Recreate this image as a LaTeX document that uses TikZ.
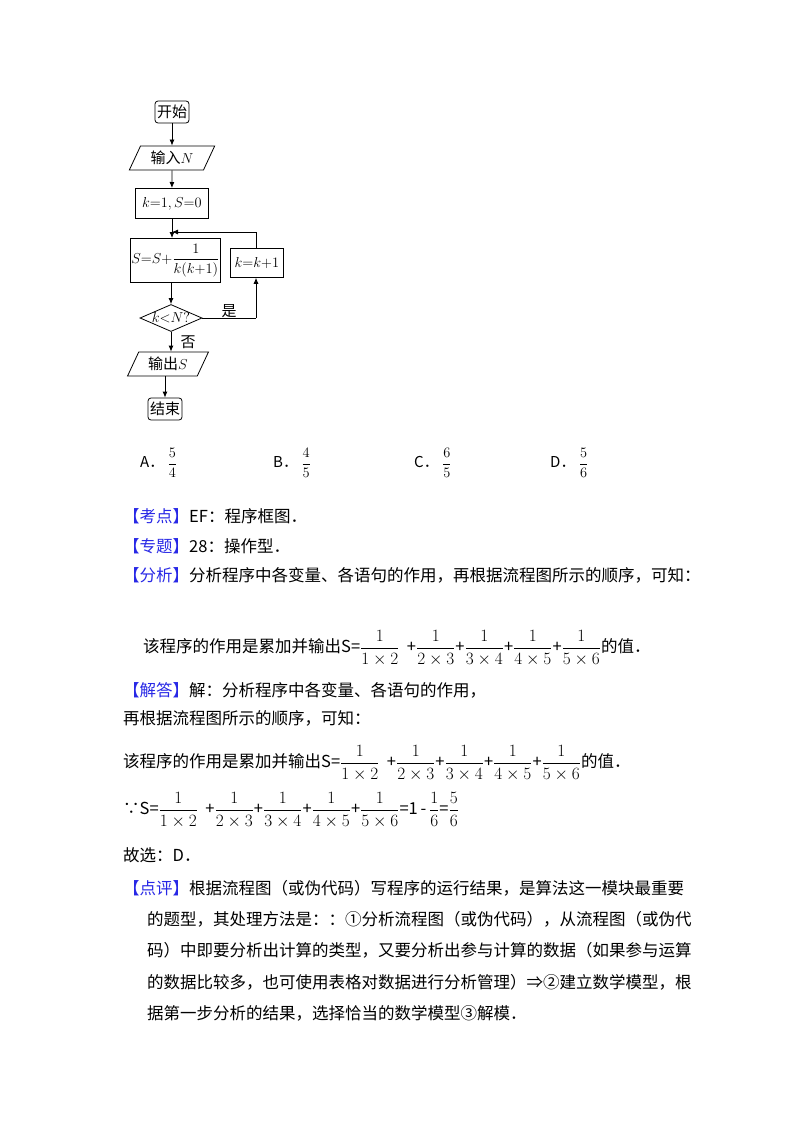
\documentclass[tikz,border=0pt]{standalone}
\usepackage{fontspec}
\usepackage{amsmath}
\setmainfont{Liberation Serif}
\newfontfamily\cjk{Noto Sans CJK SC}
\usetikzlibrary{shapes.geometric,arrows.meta}
\definecolor{kblue}{RGB}{40,40,230}
\newcommand{\lb}[1]{\textcolor{kblue}{【#1】}}
\newcommand{\fr}[2]{$\dfrac{#1}{#2}$}
\begin{document}
\begin{tikzpicture}[x=1pt,y=-1pt,
  fbox/.style={draw,thick,inner sep=2pt,font=\fontsize{15}{17}\selectfont\cjk},
  term/.style={fbox,rounded corners=3pt,minimum width=34pt,minimum height=22pt},
  io/.style={fbox,trapezium,trapezium left angle=65,trapezium right angle=115,minimum height=24pt},
  proc/.style={fbox,anchor=north west},
  dec/.style={fbox,diamond,aspect=2.3,inner sep=0pt},
  arr/.style={thick,-{Latex[length=6pt,width=5pt]}},
  ln/.style={thick},
  txt/.style={anchor=west,inner sep=0pt,font=\fontsize{16.5}{20}\selectfont\cjk},
  opt/.style={anchor=west,inner sep=0pt,font=\fontsize{15}{18}\selectfont\cjk}]
\useasboundingbox[fill=white] (0,0) rectangle (800,1132);
% flowchart
\node[term] (st) at (172,112) {开始};
\node[io] (in) at (172,158) {输入$N$};
\node[proc,minimum width=73pt,minimum height=30pt] (init) at (135,188) {$k{=}1,S{=}0$};
\coordinate (j) at (172,232);
\node[proc,minimum width=83pt,minimum height=44pt,inner sep=1pt] (sum) at (130,238) {$S{=}S{+}\dfrac{1}{k(k{+}1)}$};
\node[proc,minimum width=53pt,minimum height=29pt] (inc) at (230,248) {$k{=}k{+}1$};
\node[dec] (d) at (171,318) {$k{<}N?$};
\node[io] (out) at (168,364) {输出$S$};
\node[term] (en) at (165,409) {结束};
\coordinate (dr) at (256,318);
\coordinate (it) at (256,232);
\draw[arr] (st) -- (in);
\draw[arr] (in) -- (init);
\draw[arr] (init.south -| j) -- (sum.north -| j);
\draw[arr] (sum.south -| d) -- (d);
\draw[ln] (d.east) -- (dr);
\draw[arr] (dr) -- (inc.south -| dr);
\draw[ln] (inc.north -| it) -- (it);
\draw[arr] (it) -- (j);
\draw[arr] (d.south) -- (out.north -| d.south);
\draw[arr] (out.south -| en) -- (en);
\node[font=\fontsize{15}{17}\selectfont\cjk] (yes) at (229,311) {是};
\node[font=\fontsize{15}{17}\selectfont\cjk] (no) at (188,342) {否};
% options
\node[opt] (oa) at (140,463) {A．\ \fr{5}{4}};
\node[opt] (ob) at (273,463) {B．\ \fr{4}{5}};
\node[opt] (oc) at (414,463) {C．\ \fr{6}{5}};
\node[opt] (od) at (550,463) {D．\ \fr{5}{6}};
% text
\node[txt] (t1) at (123,516) {\lb{考点}EF：程序框图．};
\node[txt] (t2) at (123,546) {\lb{专题}28：操作型．};
\node[txt] (t3) at (123,575) {\lb{分析}分析程序中各变量、各语句的作用，再根据流程图所示的顺序，可知：};
\node[txt] (t4) at (143,648) {该程序的作用是累加并输出S=\fr{1}{1\times2}\ \ +\fr{1}{2\times3}+\fr{1}{3\times4}+\fr{1}{4\times5}+\fr{1}{5\times6}的值．};
\node[txt] (t5) at (123,690) {\lb{解答}解：分析程序中各变量、各语句的作用，};
\node[txt] (t6) at (123,718) {再根据流程图所示的顺序，可知：};
\node[txt] (t7) at (123,763) {该程序的作用是累加并输出S=\fr{1}{1\times2}\ \ +\fr{1}{2\times3}+\fr{1}{3\times4}+\fr{1}{4\times5}+\fr{1}{5\times6}的值．};
\node[txt] (t8) at (123,810) {∵S=\fr{1}{1\times2}\ \ +\fr{1}{2\times3}+\fr{1}{3\times4}+\fr{1}{4\times5}+\fr{1}{5\times6}=1\,-\,\fr{1}{6}=\fr{5}{6}};
\node[txt] (t9) at (123,855) {故选：D．};
\node[txt] (t10) at (123,888) {\lb{点评}根据流程图（或伪代码）写程序的运行结果，是算法这一模块最重要};
\node[txt] (t11) at (147,919) {的题型，其处理方法是：：①分析流程图（或伪代码），从流程图（或伪代};
\node[txt] (t12) at (147,950) {码）中即要分析出计算的类型，又要分析出参与计算的数据（如果参与运算};
\node[txt] (t13) at (147,982) {的数据比较多，也可使用表格对数据进行分析管理）⇒②建立数学模型，根};
\node[txt] (t14) at (147,1013) {据第一步分析的结果，选择恰当的数学模型③解模．};
\end{tikzpicture}
\end{document}
